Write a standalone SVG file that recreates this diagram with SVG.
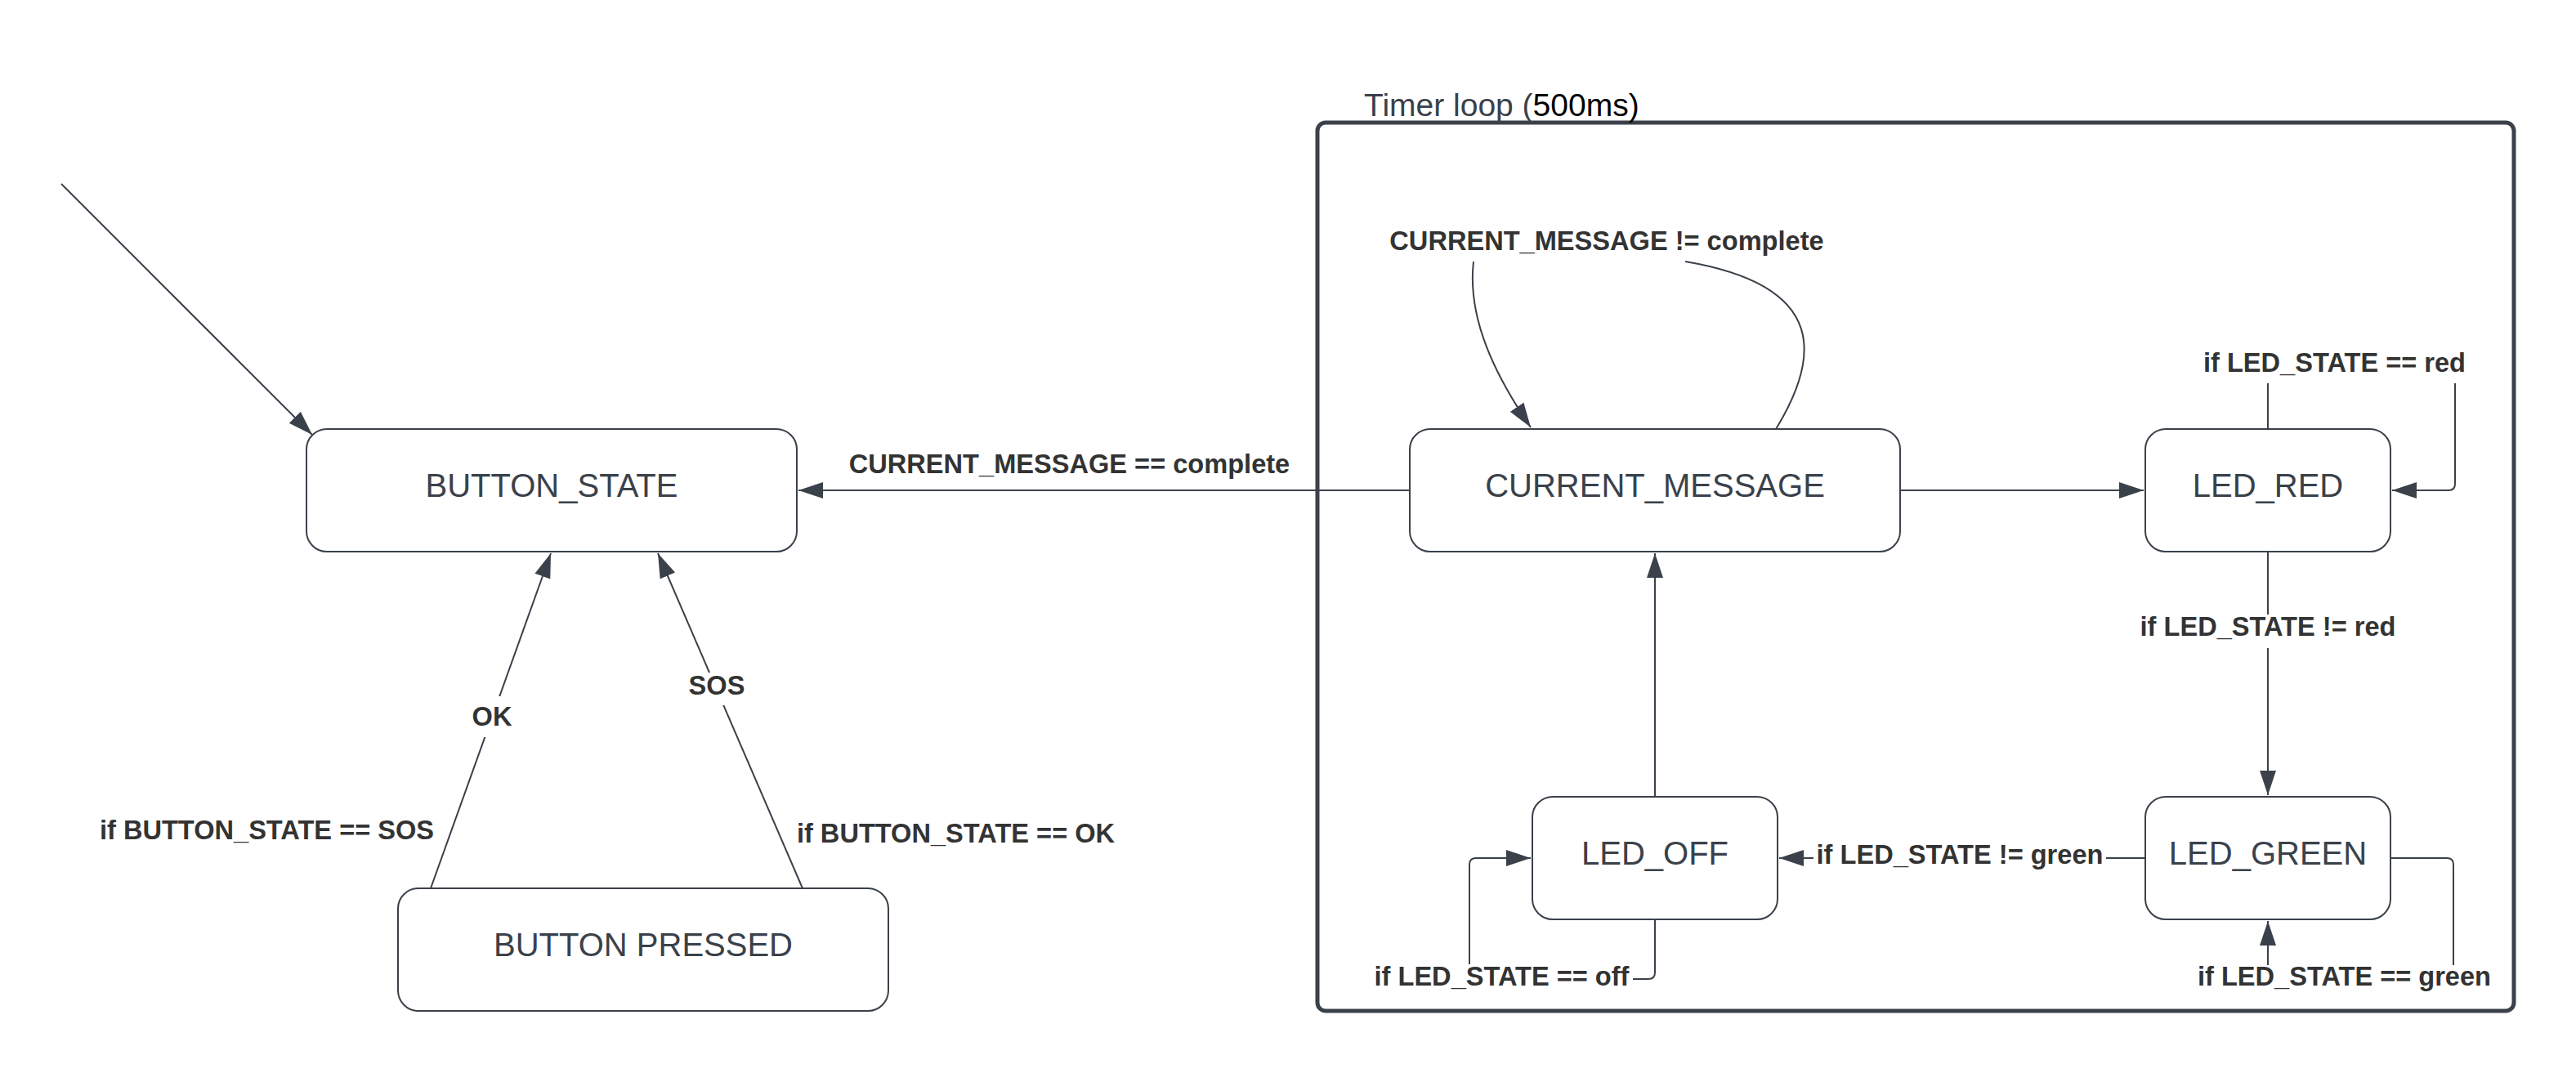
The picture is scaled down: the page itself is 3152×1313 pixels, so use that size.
<svg xmlns="http://www.w3.org/2000/svg" width="3152" height="1313" viewBox="0 0 3152 1313">
<style>
.node rect{fill:#ffffff;stroke:#3a414a;stroke-width:2}
.node text{font-family:"Liberation Sans",Arial,sans-serif;font-size:40px;fill:#3a414a;text-anchor:middle}
.conn path{fill:none;stroke:#3a414a;stroke-width:2}
.lbl{font-family:"Liberation Sans",Arial,sans-serif;font-size:32.6px;font-weight:bold;fill:#333333;text-anchor:middle}
.bg{fill:#ffffff;stroke:none}
</style>
<defs>
<marker id="arr" markerUnits="userSpaceOnUse" viewBox="0 0 32 22" markerWidth="32" markerHeight="22" refX="30" refY="11" orient="auto">
<path d="M0,1 L30,11 L0,21 Z" fill="#3a414a"/>
</marker>
</defs>
<rect width="3152" height="1313" fill="#ffffff"/>

<g id="timer-loop">
<rect x="1612" y="150" width="1464" height="1087" rx="10" ry="10" fill="none" stroke="#3a414a" stroke-width="5"/>
<text x="1669" y="142" font-family="'Liberation Sans',Arial,sans-serif" font-size="39" fill="#3a414a">Timer loop (<tspan fill="#000000">500ms)</tspan></text>
</g>

<g id="connectors" class="conn">
<path d="M75 225 L382 532" marker-end="url(#arr)"/>
<path d="M1725 600 L977 600" marker-end="url(#arr)"/>
<path d="M2173 525 C2225 440 2240 350 2062 320"/>
<path d="M1803 320 C1795 390 1830 460 1873 523" marker-end="url(#arr)"/>
<path d="M2325 600 L2623 600" marker-end="url(#arr)"/>
<path d="M2775 525 L2775 469"/>
<path d="M3004 469 L3004 592 Q3004 600 2996 600 L2927 600" marker-end="url(#arr)"/>
<path d="M2775 675 L2775 973" marker-end="url(#arr)"/>
<path d="M2625 1050 L2177 1050" marker-end="url(#arr)"/>
<path d="M2925 1050 L2994 1050 Q3002 1050 3002 1058 L3002 1181"/>
<path d="M2775 1181 L2775 1127" marker-end="url(#arr)"/>
<path d="M2025 1125 L2025 1190 Q2025 1198 2017 1198 L1998 1198"/>
<path d="M1798 1180 L1798 1058 Q1798 1050 1806 1050 L1873 1050" marker-end="url(#arr)"/>
<path d="M2025 975 L2025 677" marker-end="url(#arr)"/>
<path d="M527 1087 L674 677" marker-end="url(#arr)"/>
<path d="M982 1087 L805 677" marker-end="url(#arr)"/>
</g>

<g id="labels">
<text class="lbl" x="1308.5" y="579">CURRENT_MESSAGE == complete</text>
<text class="lbl" x="1966" y="306">CURRENT_MESSAGE != complete</text>
<text class="lbl" x="2856.5" y="455">if LED_STATE == red</text>
<rect class="bg" x="2612" y="752" width="326" height="41"/>
<text class="lbl" x="2775" y="778">if LED_STATE != red</text>
<rect class="bg" x="2219" y="1030" width="358" height="40"/>
<text class="lbl" x="2398" y="1057">if LED_STATE != green</text>
<text class="lbl" x="1837.5" y="1206">if LED_STATE == off</text>
<text class="lbl" x="2868.5" y="1206">if LED_STATE == green</text>
<text class="lbl" x="326.5" y="1027">if BUTTON_STATE == SOS</text>
<text class="lbl" x="1169.5" y="1031">if BUTTON_STATE == OK</text>
<rect class="bg" x="578" y="852" width="48" height="50"/>
<text class="lbl" x="602" y="888">OK</text>
<rect class="bg" x="846" y="823" width="62" height="40"/>
<text class="lbl" x="877" y="850">SOS</text>
</g>

<g id="node-button-state" class="node">
<rect x="375" y="525" width="600" height="150" rx="25" ry="25"/>
<text x="675" y="608">BUTTON_STATE</text>
</g>
<g id="node-button-pressed" class="node">
<rect x="487" y="1087" width="600" height="150" rx="25" ry="25"/>
<text x="787" y="1170">BUTTON PRESSED</text>
</g>
<g id="node-current-message" class="node">
<rect x="1725" y="525" width="600" height="150" rx="25" ry="25"/>
<text x="2025" y="608">CURRENT_MESSAGE</text>
</g>
<g id="node-led-red" class="node">
<rect x="2625" y="525" width="300" height="150" rx="25" ry="25"/>
<text x="2775" y="608">LED_RED</text>
</g>
<g id="node-led-green" class="node">
<rect x="2625" y="975" width="300" height="150" rx="25" ry="25"/>
<text x="2775" y="1058">LED_GREEN</text>
</g>
<g id="node-led-off" class="node">
<rect x="1875" y="975" width="300" height="150" rx="25" ry="25"/>
<text x="2025" y="1058">LED_OFF</text>
</g>
</svg>
